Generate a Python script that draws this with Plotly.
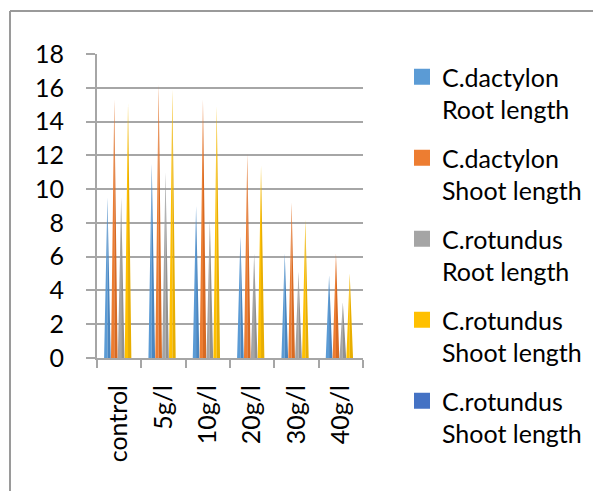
import plotly.graph_objects as go

categories = ["control", "5g/l", "10g/l", "20g/l", "30g/l", "40g/l"]
series_names = ["C.dactylon<br>Root length", "C.dactylon<br>Shoot length",
                "C.rotundus<br>Root length", "C.rotundus<br>Shoot length",
                "C.rotundus<br>Shoot length"]
dactylon_root = [9.5, 11.5, 9.0, 7.2, 6.2, 4.9]
dactylon_shoot = [15.3, 16.2, 15.3, 12.1, 9.2, 6.2]
rotundus_root = [9.5, 11.0, 8.2, 6.2, 5.1, 3.3]
rotundus_shoot = [15.1, 15.9, 14.9, 11.4, 8.2, 5.0]
rotundus_shoot_2 = [0, 0, 0, 0, 0, 0]
y_ticks = [0, 2, 4, 6, 8, 10, 12, 14, 16, 18]

series_values = [dactylon_root, dactylon_shoot, rotundus_root, rotundus_shoot, rotundus_shoot_2]
colors = ["#5B9BD5", "#ED7D31", "#A5A5A5", "#FFC000", "#4472C4"]
shades = ["#4A86C0", "#D86A22", "#919191", "#E8AE00", "#3A62AE"]

FONT = "Lato"
FS = 25
slot = 0.155
first = -0.265
hw = 0.075

fig = go.Figure()
for k, (vals, c, d) in enumerate(zip(series_values, colors, shades)):
    off = first + k * slot
    lx, ly, rx, ry = [], [], [], []
    for i, v in enumerate(vals):
        if v is None or v == 0:
            continue
        xc = i + off
        lx += [xc - hw, xc, xc, None]
        ly += [0, v, 0, None]
        rx += [xc, xc, xc + hw, None]
        ry += [0, v, 0, None]
    fig.add_trace(go.Scatter(x=lx, y=ly, fill="toself", fillcolor=c, mode="lines",
                             line=dict(width=0, color=c), showlegend=False, hoverinfo="skip"))
    fig.add_trace(go.Scatter(x=rx, y=ry, fill="toself", fillcolor=d, mode="lines",
                             line=dict(width=0, color=d), showlegend=False, hoverinfo="skip"))

for k, (name, c) in enumerate(zip(series_names, colors)):
    fig.add_trace(go.Scatter(x=[None], y=[None], mode="markers", name=name,
                             legendgroup=f"g{k}",
                             marker=dict(symbol="square", size=16, color=c)))

# page body has an 8px margin, so the figure is drawn 8px in from the window edge
W, H = 593, 483
L, R, T, B = 89, 238, 46, 133
pw, ph = W - L - R, H - T - B

def px_to_paper_x(px):
    return (px - L) / pw

def px_to_paper_y(py):
    return (H - B - py) / ph

border = dict(color="#9A9A9A", width=2)
fig.add_shape(type="line", xref="paper", yref="paper",
              x0=px_to_paper_x(2), x1=px_to_paper_x(610),
              y0=px_to_paper_y(3), y1=px_to_paper_y(3), line=border)
fig.add_shape(type="line", xref="paper", yref="paper",
              x0=px_to_paper_x(2), x1=px_to_paper_x(2),
              y0=px_to_paper_y(3), y1=px_to_paper_y(500), line=border)

axcol = "#A6A6A6"
fig.update_layout(
    width=W, height=H,
    margin=dict(l=L, r=R, t=T, b=B),
    paper_bgcolor="white", plot_bgcolor="white",
    font=dict(family=FONT, size=FS, color="black"),
    xaxis=dict(range=[-0.5, len(categories) - 0.5],
               tickmode="array", tickvals=list(range(len(categories))), ticktext=categories,
               tickangle=-90, ticks="", showgrid=False, zeroline=False,
               showline=True, linecolor=axcol, linewidth=2,
               ticklabelstandoff=15,
               minor=dict(tickmode="array",
                          tickvals=[i - 0.5 for i in range(len(categories) + 1)],
                          ticks="outside", ticklen=8, tickcolor=axcol, tickwidth=2,
                          showgrid=False),
               tickfont=dict(family=FONT, size=FS, color="black"), fixedrange=True),
    yaxis=dict(range=[0, 18], tickmode="array", tickvals=y_ticks,
               showgrid=True, gridcolor=axcol, gridwidth=2, zeroline=False,
               showline=True, linecolor=axcol, linewidth=2,
               ticks="outside", ticklen=9, tickcolor=axcol, tickwidth=2,
               ticklabelstandoff=17,
               tickfont=dict(family=FONT, size=FS, color="black"), fixedrange=True),
    legend=dict(xref="container", yref="container", x=394 / W, y=1 - 46 / H,
                xanchor="left", yanchor="top", traceorder="grouped",
                tracegroupgap=13, valign="top", maxheight=475,
                font=dict(family=FONT, size=FS, color="black"),
                bgcolor="rgba(0,0,0,0)"),
    showlegend=True,
)

fig.write_html("out.html")
